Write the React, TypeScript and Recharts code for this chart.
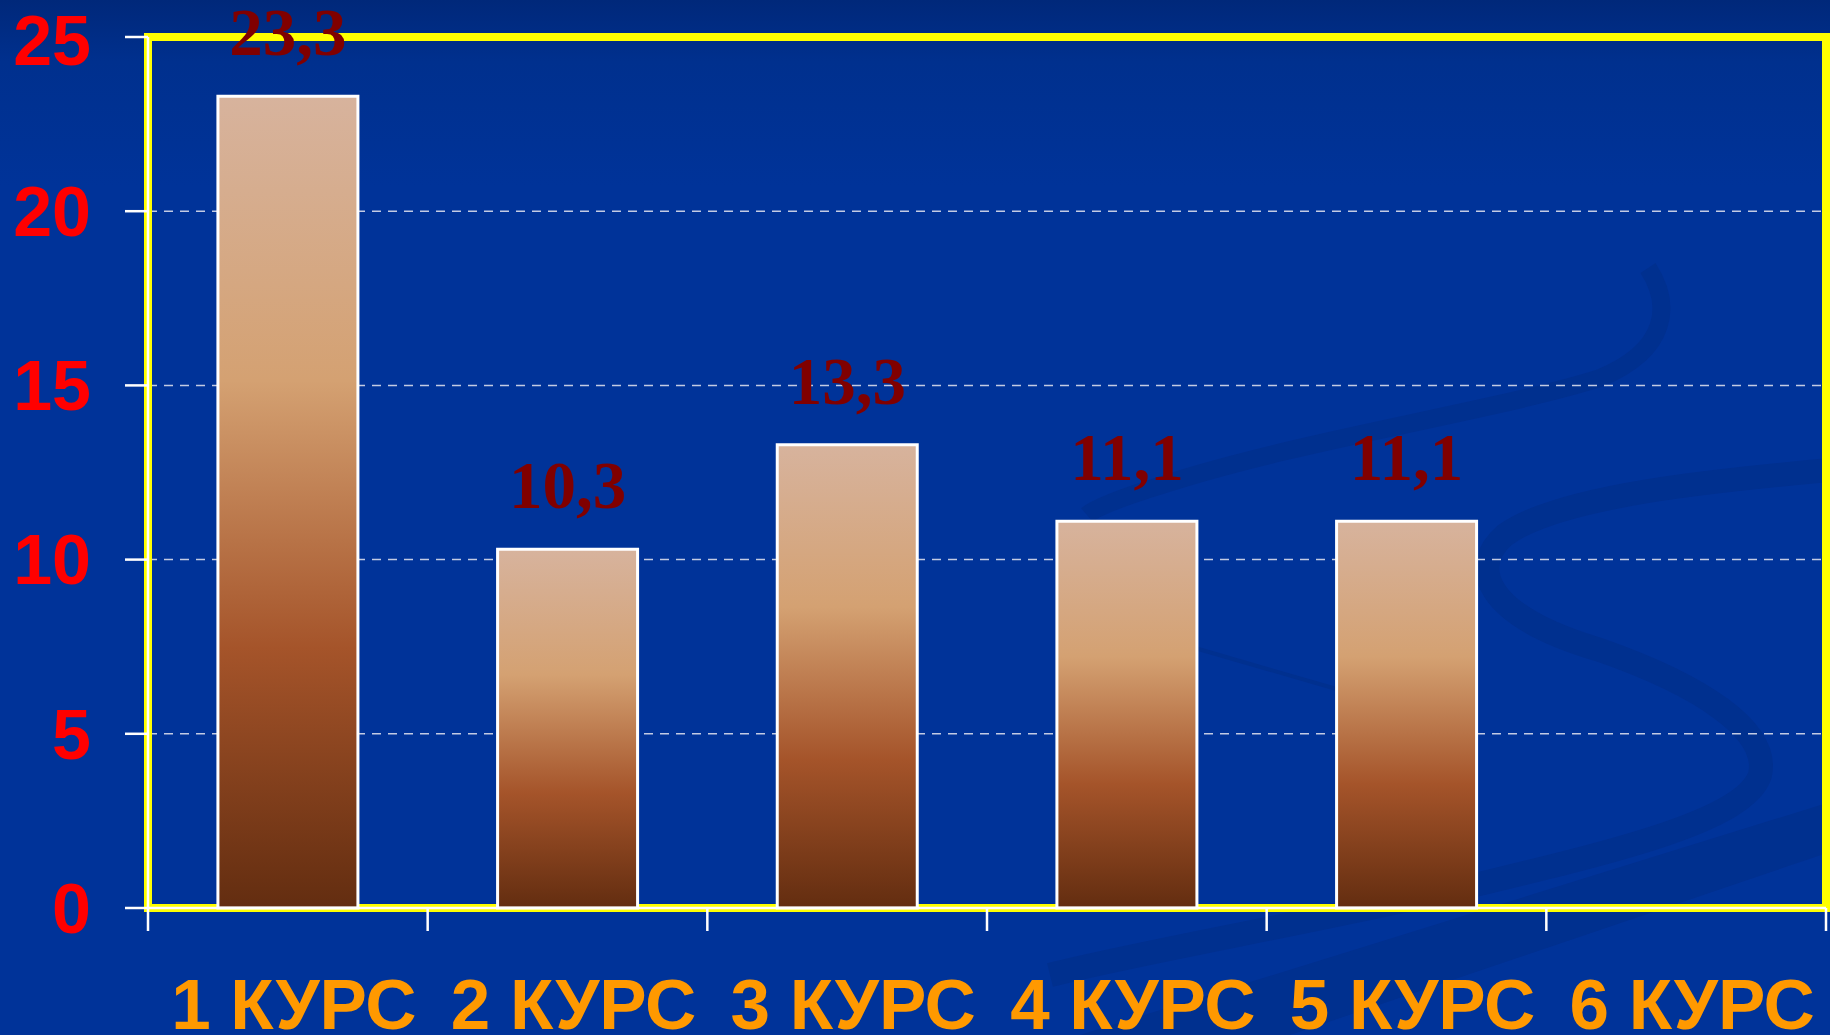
import { Bar, BarChart, CartesianGrid, LabelList, ReferenceArea, XAxis, YAxis } from "recharts";

const categories = ["1 КУРС", "2 КУРС", "3 КУРС", "4 КУРС", "5 КУРС", "6 КУРС"];
const values = [23.3, 10.3, 13.3, 11.1, 11.1, 0];
const yTicks = [0, 5, 10, 15, 20, 25];

const data = categories.map((name, i) => ({ name, value: values[i] }));

function fmt(v: number) {
  return String(v).replace(".", ",");
}

function CourseTick(props: any) {
  const { x, y, payload, index, width } = props;
  const band = (width ?? 1678) / categories.length;
  return (
    <g>
      <line x1={x - band / 2} y1={y} x2={x - band / 2} y2={y + 23} stroke="#ffffff" strokeWidth={2.5} />
      {index === categories.length - 1 && (
        <line x1={x + band / 2} y1={y} x2={x + band / 2} y2={y + 23} stroke="#ffffff" strokeWidth={2.5} />
      )}
      <text
        x={x + 6}
        y={y + 121}
        textAnchor="middle"
        fill="#ff9900"
        fontFamily="'Liberation Sans', Arial, sans-serif"
        fontWeight="bold"
        fontSize={71}
      >
        {payload.value}
      </text>
    </g>
  );
}

function ValueLabel(props: any) {
  const { x, y, width, value } = props;
  return (
    <text
      x={x + width / 2}
      y={y - 41}
      textAnchor="middle"
      fill="#800000"
      fontFamily="'Liberation Serif', 'Times New Roman', serif"
      fontWeight="bold"
      fontSize={67}
    >
      {fmt(Number(value))}
    </text>
  );
}

function Swooshes() {
  // decorative background curves of the slide template
  const c = "#00308f";
  return (
    <svg width={1830} height={1035} style={{ position: "absolute", left: 0, top: 0 }}>
      <path
        d="M 1648 268 C 1672 305, 1668 350, 1600 378 C 1500 410, 1300 440, 1162 485 C 1120 498, 1095 508, 1087 515"
        stroke={c}
        strokeWidth={18}
        fill="none"
      />
      <path
        d="M 1830 470 C 1720 480, 1560 495, 1505 535 C 1470 565, 1480 615, 1600 650 C 1700 685, 1770 730, 1760 775 C 1745 820, 1620 850, 1475 885 C 1300 925, 1150 950, 1050 975"
        stroke={c}
        strokeWidth={24}
        fill="none"
      />
      <path d="M 1195 648 L 1340 690" stroke={c} strokeWidth={4} fill="none" />
      <path d="M 1830 802 L 1830 852 L 1290 1035 L 1080 1035 Z" fill={c} />
    </svg>
  );
}

export default function App() {
  return (
    <div
      style={{
        position: "absolute",
        left: 0,
        top: 0,
        width: 1830,
        height: 1035,
        overflow: "hidden",
        background: "linear-gradient(180deg, #00287a 0%, #00308e 6%, #003399 18%, #003399 100%)",
      }}
    >
      <Swooshes />
      <div style={{ position: "absolute", left: 0, top: 0 }}>
        <BarChart
          width={1830}
          height={1035}
          data={data}
          margin={{ top: 37, right: 4, left: 0, bottom: 0 }}
          barCategoryGap="25%"
        >
          <defs>
            <linearGradient id="barFill" x1="0" y1="0" x2="0" y2="1">
              <stop offset="0%" stopColor="#d7b39d" />
              <stop offset="35%" stopColor="#d4a172" />
              <stop offset="68%" stopColor="#a5542a" />
              <stop offset="100%" stopColor="#632d10" />
            </linearGradient>
          </defs>
          <CartesianGrid vertical={false} stroke="#c3cbe3" strokeDasharray="9 7" strokeWidth={1.5} />
          <XAxis
            dataKey="name"
            interval={0}
            height={127}
            tickLine={false}
            tickSize={0}
            tickMargin={0}
            axisLine={{ stroke: "#ffffff", strokeWidth: 2.5 }}
            tick={<CourseTick />}
          />
          <YAxis
            domain={[0, 25]}
            ticks={yTicks}
            width={148}
            tickSize={23}
            tickMargin={34}
            axisLine={{ stroke: "#ffffff", strokeWidth: 2.5 }}
            tickLine={{ stroke: "#ffffff", strokeWidth: 2.5 }}
            tick={{
              fill: "#ff0000",
              fontSize: 70,
              fontWeight: "bold",
              fontFamily: "'Liberation Sans', Arial, sans-serif",
            }}
          />
          <ReferenceArea y1={0} y2={25} stroke="#ffff00" strokeWidth={8} fill="none" fillOpacity={0} />
          <Bar dataKey="value" fill="url(#barFill)" stroke="#ffffff" strokeWidth={3} isAnimationActive={false}>
            <LabelList dataKey="value" content={<ValueLabel />} />
          </Bar>
        </BarChart>
      </div>
    </div>
  );
}
